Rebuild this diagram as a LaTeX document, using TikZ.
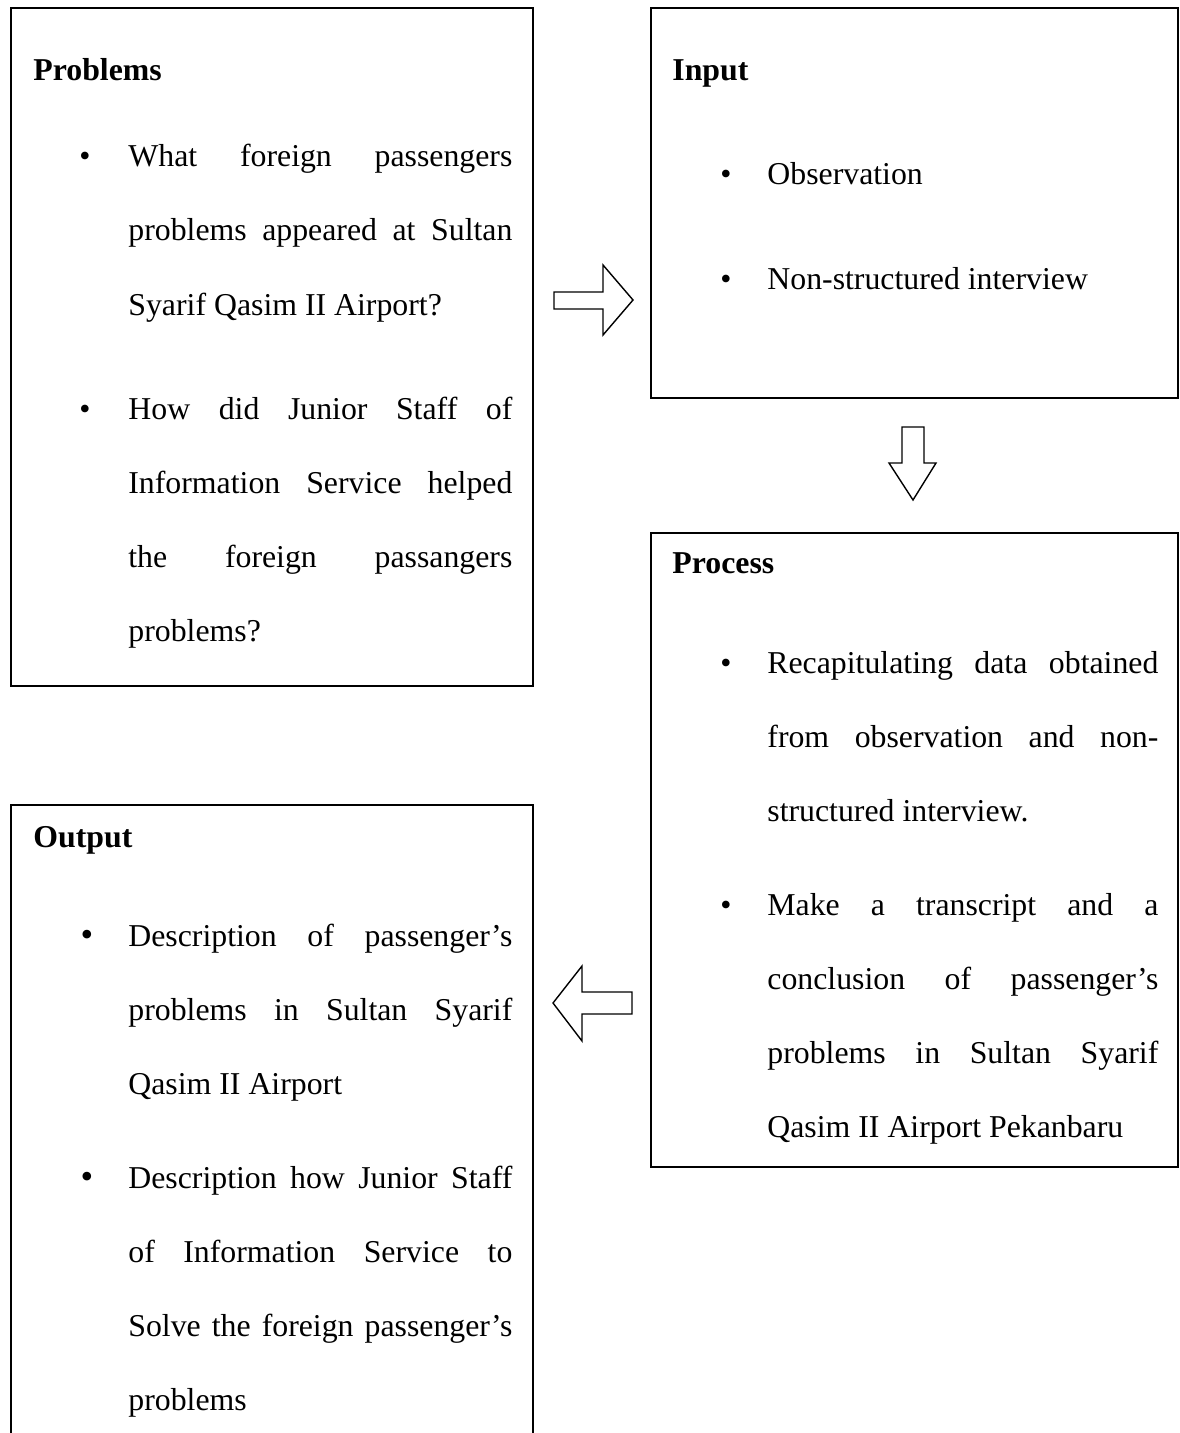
\documentclass[tikz,border=0pt]{standalone}
\usepackage{fontspec}
\setmainfont{Liberation Serif}
\newcommand\bodyfont{\fontsize{15.9}{20}\selectfont}
\newcommand\jA[1]{\makebox[192pt][s]{#1}}
\newcommand\jB[1]{\makebox[195.5pt][s]{#1}}
\begin{document}
\begin{tikzpicture}[x=0.5pt,y=-0.5pt,
  box/.style={draw=black, line width=0.75pt},
  blockarrow/.style={draw=black, line width=0.7pt, line join=miter, fill=white},
  txt/.style={anchor=base west, inner sep=0pt, font=\bodyfont},
  hd/.style={anchor=base west, inner sep=0pt, font=\bodyfont\bfseries},
  bul/.style={anchor=base, inner sep=0pt, font=\bodyfont},
  bulbig/.style={anchor=base, inner sep=0pt, font=\fontsize{18}{20}\selectfont}]
\useasboundingbox (0,0) rectangle (1179,1433);

% boxes
\draw[box] (11,8) rectangle (533,686);
\draw[box] (651,8) rectangle (1178,398);
\draw[box] (651,533) rectangle (1178,1167);
\draw[box] (11,1433) -- (11,805) -- (533,805) -- (533,1433);

% block arrows
\draw[blockarrow] (554,292) -- (603,292) -- (603,265) -- (633,300) -- (603,335) -- (603,309) -- (554,309) -- cycle;
\draw[blockarrow] (902,427) -- (924,427) -- (924,463) -- (936,463) -- (913,500) -- (889,463) -- (902,463) -- cycle;
\draw[blockarrow] (632,992) -- (582,992) -- (582,966) -- (553,1003) -- (582,1041) -- (582,1014) -- (632,1014) -- cycle;

% Problems
\node[hd] (ph) at (33,81) {Problems};
\node[bul] (pb1) at (85,167) {•};
\node[txt] (p1) at (128,167) {\jA{What foreign passengers}};
\node[txt] (p2) at (128,241) {\jA{problems appeared at Sultan}};
\node[txt] (p3) at (128,315) {Syarif Qasim II Airport?};
\node[bul] (pb2) at (85,419) {•};
\node[txt] (p4) at (128,419) {\jA{How did Junior Staff of}};
\node[txt] (p5) at (128,493) {\jA{Information Service helped}};
\node[txt] (p6) at (128,567) {\jA{the foreign passangers}};
\node[txt] (p7) at (128,641) {problems?};

% Input
\node[hd] (ih) at (672,81) {Input};
\node[bul] (ib1) at (726,185) {•};
\node[txt] (i1) at (767,185) {Observation};
\node[bul] (ib2) at (726,290) {•};
\node[txt] (i2) at (767,290) {Non-structured interview};

% Process
\node[hd] (rh) at (672,573) {Process};
\node[bul] (rb1) at (726,673) {•};
\node[txt] (r1) at (767,673) {\jB{Recapitulating data obtained}};
\node[txt] (r2) at (767,747) {\jB{from observation and non-}};
\node[txt] (r3) at (767,821) {structured interview.};
\node[bul] (rb2) at (726,915) {•};
\node[txt] (r4) at (767,915) {\jB{Make a transcript and a}};
\node[txt] (r5) at (767,989) {\jB{conclusion of passenger’s}};
\node[txt] (r6) at (767,1063) {\jB{problems in Sultan Syarif}};
\node[txt] (r7) at (767,1137) {Qasim II Airport Pekanbaru};

% Output
\node[hd] (oh) at (33,847) {Output};
\node[bulbig] (ob1) at (87,946) {•};
\node[txt] (o1) at (128,946) {\jA{Description of passenger’s}};
\node[txt] (o2) at (128,1020) {\jA{problems in Sultan Syarif}};
\node[txt] (o3) at (128,1094) {Qasim II Airport};
\node[bulbig] (ob2) at (87,1188) {•};
\node[txt] (o4) at (128,1188) {\jA{Description how Junior Staff}};
\node[txt] (o5) at (128,1262) {\jA{of Information Service to}};
\node[txt] (o6) at (128,1336) {\jA{Solve the foreign passenger’s}};
\node[txt] (o7) at (128,1410) {problems};
\end{tikzpicture}
\end{document}
